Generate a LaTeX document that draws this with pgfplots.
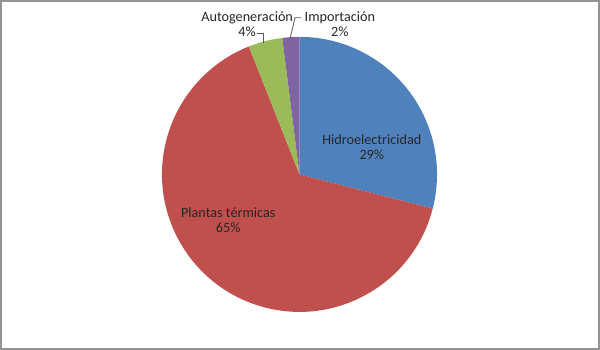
\documentclass[border=0pt]{standalone}
\usepackage{pgfplots}
\pgfplotsset{compat=1.18}
\usepackage{fontspec}
\setmainfont{Carlito}
\definecolor{cB}{HTML}{4F81BD}
\definecolor{cR}{HTML}{C0504D}
\definecolor{cG}{HTML}{9BBB59}
\definecolor{cP}{HTML}{8064A2}
\definecolor{txt}{HTML}{262626}
% slice: start (percent), value (percent), colour
\newcommand\slice[3]{%
  \pgfmathsetmacro\sa{90-3.6*#1}%
  \pgfmathsetmacro\sb{90-3.6*(#1+#2)}%
  \edef\temp{\noexpand\fill[#3] (axis cs:299.5,174.5) -- ++(\sa:102.75pt) arc[start angle=\sa,end angle=\sb,radius=102.75pt] -- cycle;}%
  \temp}
\tikzset{lbl/.style={font=\fontsize{10.6pt}{11.3pt}\selectfont, text=txt, align=center, inner sep=0pt}}
\begin{document}
\begin{tikzpicture}
\begin{axis}[
  scale only axis, width=447pt, height=260pt,
  xmin=0, xmax=600, ymin=0, ymax=350, y dir=reverse,
  ticks=none, axis line style={draw=gray!85, line width=1.3pt},
  clip=false,
]
% values: Hidroelectricidad 29, Plantas termicas 65, Autogeneracion 4, Importacion 2
\slice{0}{29}{cB}
\slice{29}{65}{cR}
\slice{94}{4}{cG}
\slice{98}{2}{cP}
\node[lbl] at (axis cs:372,147) {Hidroelectricidad\\29\%};
\node[lbl] at (axis cs:228,220.5) {Plantas térmicas\\65\%};
\node[lbl] at (axis cs:247,23.5) {Autogeneración\\4\%};
\node[lbl] at (axis cs:340,23.5) {Importación\\2\%};
\draw[black!65, line width=0.6pt] (axis cs:257,33) -- (axis cs:263,33) -- (axis cs:263,42);
\draw[black!65, line width=0.6pt] (axis cs:290,38) -- (axis cs:295,17) -- (axis cs:301,17);
\end{axis}
\end{tikzpicture}
\end{document}
